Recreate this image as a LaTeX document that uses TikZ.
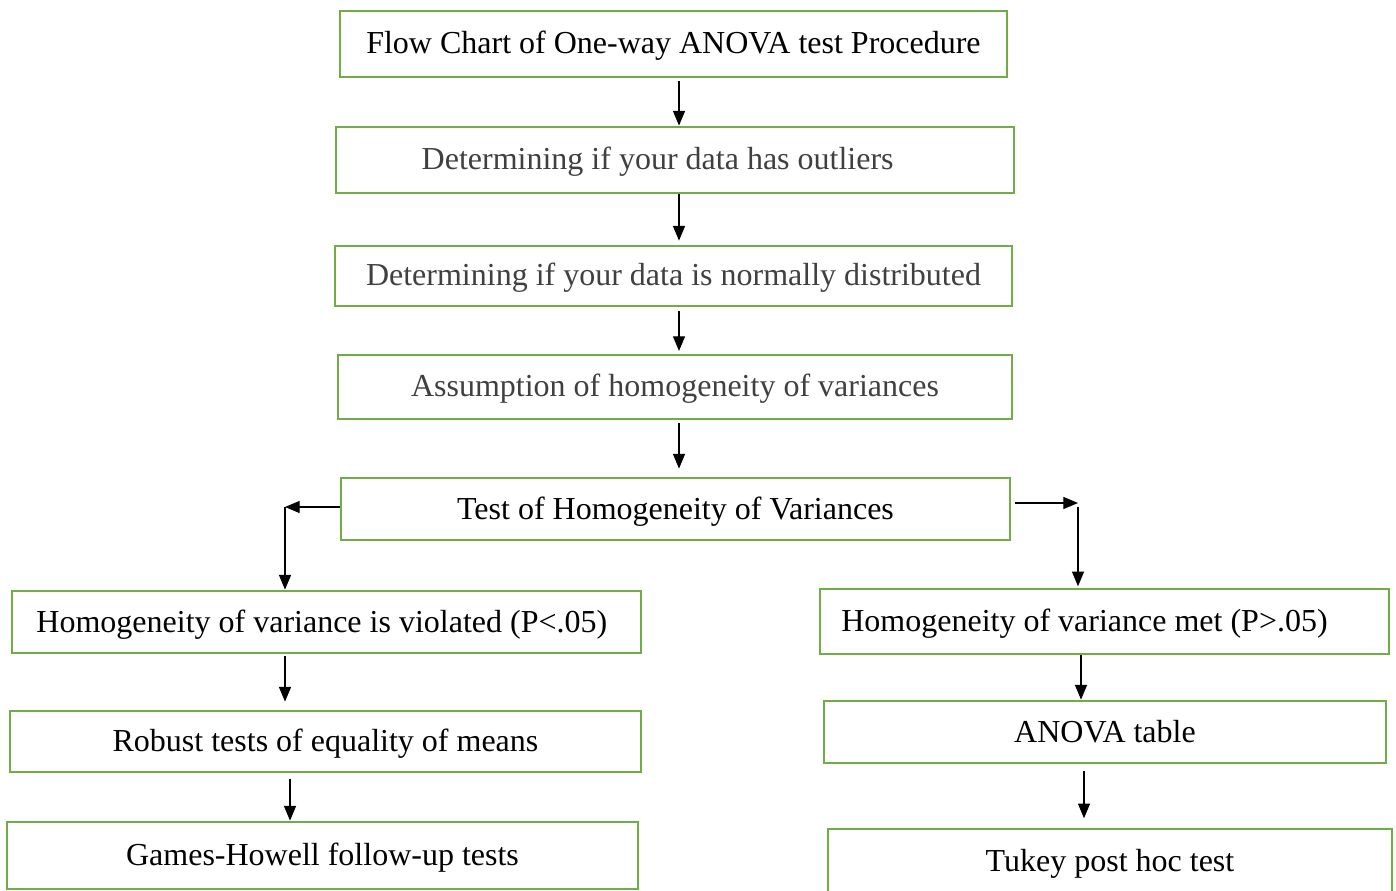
\documentclass[tikz,border=0pt]{standalone}
\usepackage{fontspec}
\setmainfont{Liberation Serif}
\usetikzlibrary{arrows.meta}
\definecolor{boxgreen}{HTML}{70AD47}
\definecolor{txtgray}{HTML}{404040}
\begin{document}
\begin{tikzpicture}[x=0.75pt,y=-0.75pt,
  box/.style={draw=boxgreen,line width=2.1pt,inner sep=0pt,
    text height=20pt,text depth=5pt,
    font=\fontsize{24}{28}\selectfont},
  arr/.style={draw=black,line width=0.9pt,-{Triangle[length=11pt,width=9pt]}}]
\clip (0,0) rectangle (1396,891);
\fill[white] (0,0) rectangle (1396,891);
% boxes
\node[box,minimum width=667*0.75pt,minimum height=66*0.75pt] (title) at (673.5,44) {Flow Chart of One-way ANOVA test Procedure};
\node[box,text=txtgray,minimum width=678*0.75pt,minimum height=66*0.75pt] (outl) at (675,160) {Determining if your data has outliers\hspace{26pt}\null};
\node[box,text=txtgray,minimum width=677*0.75pt,minimum height=60*0.75pt] (norm) at (673.5,276) {Determining if your data is normally distributed};
\node[box,text=txtgray,minimum width=674*0.75pt,minimum height=64*0.75pt] (assum) at (675,387) {Assumption of homogeneity of variances};
\node[box,minimum width=669*0.75pt,minimum height=62*0.75pt] (test) at (675.5,509) {Test of Homogeneity of Variances};
\node[box,minimum width=629*0.75pt,minimum height=62*0.75pt] (viol) at (326.5,622) {Homogeneity of variance is violated (P<.05)\hspace{7pt}\null};
\node[box,minimum width=631*0.75pt,minimum height=61*0.75pt] (rob) at (325.5,741.5) {Robust tests of equality of means};
\node[box,minimum width=631*0.75pt,minimum height=67*0.75pt] (games) at (322.5,855.5) {Games-Howell follow-up tests};
\node[box,minimum width=569*0.75pt,minimum height=65*0.75pt] (met) at (1104.5,621.5) {Homogeneity of variance met (P>.05)\hspace{30pt}\null};
\node[box,minimum width=562*0.75pt,minimum height=62*0.75pt] (anova) at (1105,732) {ANOVA table};
\node[box,minimum width=564*0.75pt,minimum height=64*0.75pt] (tukey) at (1110,861) {Tukey post hoc test};
% connectors
\draw[arr,shorten <=2pt] (title.south -| 679,0) -- (outl.north -| 679,0);
\draw[arr,shorten >=3pt] (outl.south -| 679,0) -- (norm.north -| 679,0);
\draw[arr,shorten <=3pt,shorten >=2pt] (norm.south -| 679,0) -- (assum.north -| 679,0);
\draw[arr,shorten <=2pt,shorten >=6pt] (assum.south -| 679,0) -- (test.north -| 679,0);
\coordinate (lc) at (285,507);
\coordinate (rc) at (1078,503);
\coordinate (rd) at (1078,507);
\draw[arr] (test.west |- lc) -- (lc);
\draw[arr] (lc) -- (viol.north -| lc);
\draw[arr,shorten <=3pt] (test.east |- rc) -- (rc);
\draw[arr,shorten >=1pt] (rd) -- (met.north -| rd);
\draw[arr,shorten <=1pt,shorten >=6pt] (viol.south -| 285,0) -- (rob.north -| 285,0);
\draw[arr,shorten <=4pt] (rob.south -| 290,0) -- (games.north -| 290,0);
\draw[arr] (met.south -| 1081,0) -- (anova.north -| 1081,0);
\draw[arr,shorten <=5pt,shorten >=7pt] (anova.south -| 1084,0) -- (tukey.north -| 1084,0);
\end{tikzpicture}
\end{document}
